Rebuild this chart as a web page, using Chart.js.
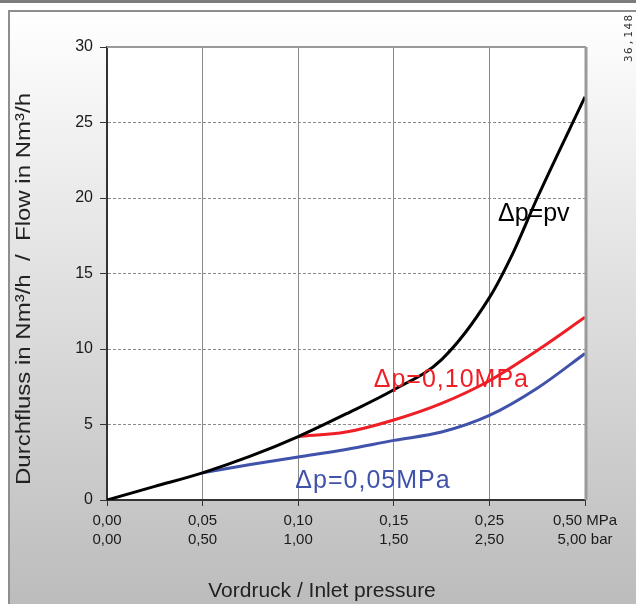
<!DOCTYPE html>
<html>
<head>
<meta charset="utf-8">
<script src="https://cdn.jsdelivr.net/npm/chart.js@4.4.1/dist/chart.umd.min.js"></script>
<style>
  html, body { margin: 0; padding: 0; background: #fff; }
  canvas { display: block; }
</style>
</head>
<body>
<canvas id="chart" width="636" height="604"></canvas>
<script>
// tick labels (equally spaced, index 0..5)
const mpaTicks = ['0,00', '0,05', '0,10', '0,15', '0,25', '0,50 MPa'];
const barTicks = ['0,00', '0,50', '1,00', '1,50', '2,50', '5,00 bar'];

// curves, x given in tick-index units
const pvX = [0, 0.5, 1, 1.5, 2, 2.5, 3, 3.5, 4, 4.25, 4.5, 5];
const pvY = [0, 0.9, 1.8, 2.9, 4.2, 5.7, 7.3, 9.3, 13.4, 16.4, 20.0, 26.7];
const dp10X = [2, 2.5, 3, 3.5, 4, 4.5, 5];
const dp10Y = [4.2, 4.5, 5.3, 6.4, 7.9, 9.9, 12.1];
const dp05X = [1, 1.5, 2, 2.5, 3, 3.5, 4, 4.5, 5];
const dp05Y = [1.8, 2.35, 2.85, 3.35, 3.95, 4.5, 5.6, 7.4, 9.7];

const seriesNames = ['Δp=pv', 'Δp=0,10MPa', 'Δp=0,05MPa'];
const seriesColors = ['#000000', '#ee1f26', '#4052aa'];
const xTitle = 'Vordruck / Inlet pressure';
const yTitle = 'Durchfluss in Nm³/h  /  Flow in Nm³/h';
const stamp = '36,148';

const FONT = '"Liberation Sans", Arial, sans-serif';

const toPoints = (xs, ys) => xs.map((x, i) => ({ x: x, y: ys[i] }));

const backdrop = {
  id: 'backdrop',
  beforeDraw(chart) {
    const { ctx, width, height, chartArea: a } = chart;
    ctx.save();
    ctx.fillStyle = '#ffffff';
    ctx.fillRect(0, 0, width, height);
    const g = ctx.createLinearGradient(0, 12, 0, height);
    g.addColorStop(0, '#ffffff');
    g.addColorStop(1, '#bcbcbc');
    ctx.fillStyle = g;
    ctx.fillRect(9, 11, width - 9, height - 11);
    // top bar and frame
    ctx.fillStyle = '#7c7c7c';
    ctx.fillRect(0, 0, width, 3);
    ctx.fillStyle = '#8e8e8e';
    ctx.fillRect(8, 10, width - 8, 2);
    ctx.fillRect(8, 10, 2, height - 10);
    // plot area
    ctx.fillStyle = '#ffffff';
    ctx.fillRect(a.left, a.top, a.right - a.left, a.bottom - a.top);
    ctx.restore();
  },
  afterDatasetsDraw(chart) {
    const { ctx, chartArea: a } = chart;
    ctx.save();
    ctx.strokeStyle = '#9a9a9a';
    ctx.lineWidth = 2;
    ctx.beginPath();
    ctx.moveTo(a.left, a.top);
    ctx.lineTo(a.right + 1, a.top);
    ctx.stroke();
    ctx.lineWidth = 3;
    ctx.beginPath();
    ctx.moveTo(a.right + 1, a.top);
    ctx.lineTo(a.right + 1, a.bottom);
    ctx.stroke();
    ctx.restore();
  }
};

// curve names placed in data coordinates, plus axis titles
const labelSpots = [[4.09, 18.5], [2.79, 7.5], [1.97, 0.8]];
const texts = {
  id: 'texts',
  afterDraw(chart) {
    const { ctx, scales: { x, y } } = chart;
    ctx.save();
    ctx.font = '25px ' + FONT;
    ctx.textBaseline = 'alphabetic';
    ctx.textAlign = 'left';
    seriesNames.forEach((name, i) => {
      ctx.fillStyle = seriesColors[i];
      ctx.letterSpacing = i === 0 ? '0px' : '1px';
      ctx.fillText(name, x.getPixelForValue(labelSpots[i][0]), y.getPixelForValue(labelSpots[i][1]));
    });
    ctx.letterSpacing = '0px';

    ctx.fillStyle = '#222';
    ctx.font = '21px ' + FONT;
    ctx.textAlign = 'center';
    ctx.fillText(xTitle, 322, 597);

    // y title stretched along its length to span the reference height
    const w = ctx.measureText(yTitle).width;
    ctx.translate(30, 289);
    ctx.rotate(-Math.PI / 2);
    ctx.scale(392 / w, 1);
    ctx.fillText(yTitle, 0, 0);
    ctx.restore();

    ctx.save();
    ctx.fillStyle = '#333';
    ctx.font = '11px "DejaVu Sans Mono", monospace';
    ctx.letterSpacing = '1.5px';
    ctx.translate(632, 62);
    ctx.rotate(-Math.PI / 2);
    ctx.textAlign = 'left';
    ctx.fillText(stamp, 0, 0);
    ctx.restore();
  }
};

new Chart(document.getElementById('chart'), {
  type: 'line',
  data: {
    datasets: [
      { label: seriesNames[0], data: toPoints(pvX, pvY), borderColor: seriesColors[0] },
      { label: seriesNames[1], data: toPoints(dp10X, dp10Y), borderColor: seriesColors[1] },
      { label: seriesNames[2], data: toPoints(dp05X, dp05Y), borderColor: seriesColors[2] }
    ]
  },
  options: {
    responsive: false,
    animation: false,
    layout: { padding: { left: 0, top: 47, right: 51, bottom: 0 } },
    elements: {
      point: { radius: 0 },
      line: { borderWidth: 3, cubicInterpolationMode: 'monotone', fill: false }
    },
    plugins: {
      legend: { display: false },
      tooltip: { enabled: false }
    },
    scales: {
      x: {
        type: 'linear',
        min: 0,
        max: 5,
        afterFit: (s) => { s.height = 104; },
        afterBuildTicks: (s) => { s.ticks = mpaTicks.map((t, i) => ({ value: i })); },
        ticks: {
          autoSkip: false,
          maxRotation: 0,
          padding: 5,
          color: '#1a1a1a',
          font: { family: FONT, size: 15, lineHeight: 1.3 },
          callback: (v) => [mpaTicks[v], barTicks[v]]
        },
        grid: { color: '#8a8a8a', lineWidth: 1, tickLength: 6, tickColor: '#333' },
        border: { color: '#333', width: 2 }
      },
      y: {
        min: 0,
        max: 30,
        afterFit: (s) => { s.width = 107; },
        ticks: {
          stepSize: 5,
          padding: 7,
          color: '#1a1a1a',
          font: { family: FONT, size: 16 }
        },
        grid: { color: '#8a8a8a', lineWidth: 1, tickLength: 7, tickColor: '#333' },
        border: { color: '#333', width: 2, dash: [3, 2] }
      }
    }
  },
  plugins: [backdrop, texts]
});
</script>
</body>
</html>
